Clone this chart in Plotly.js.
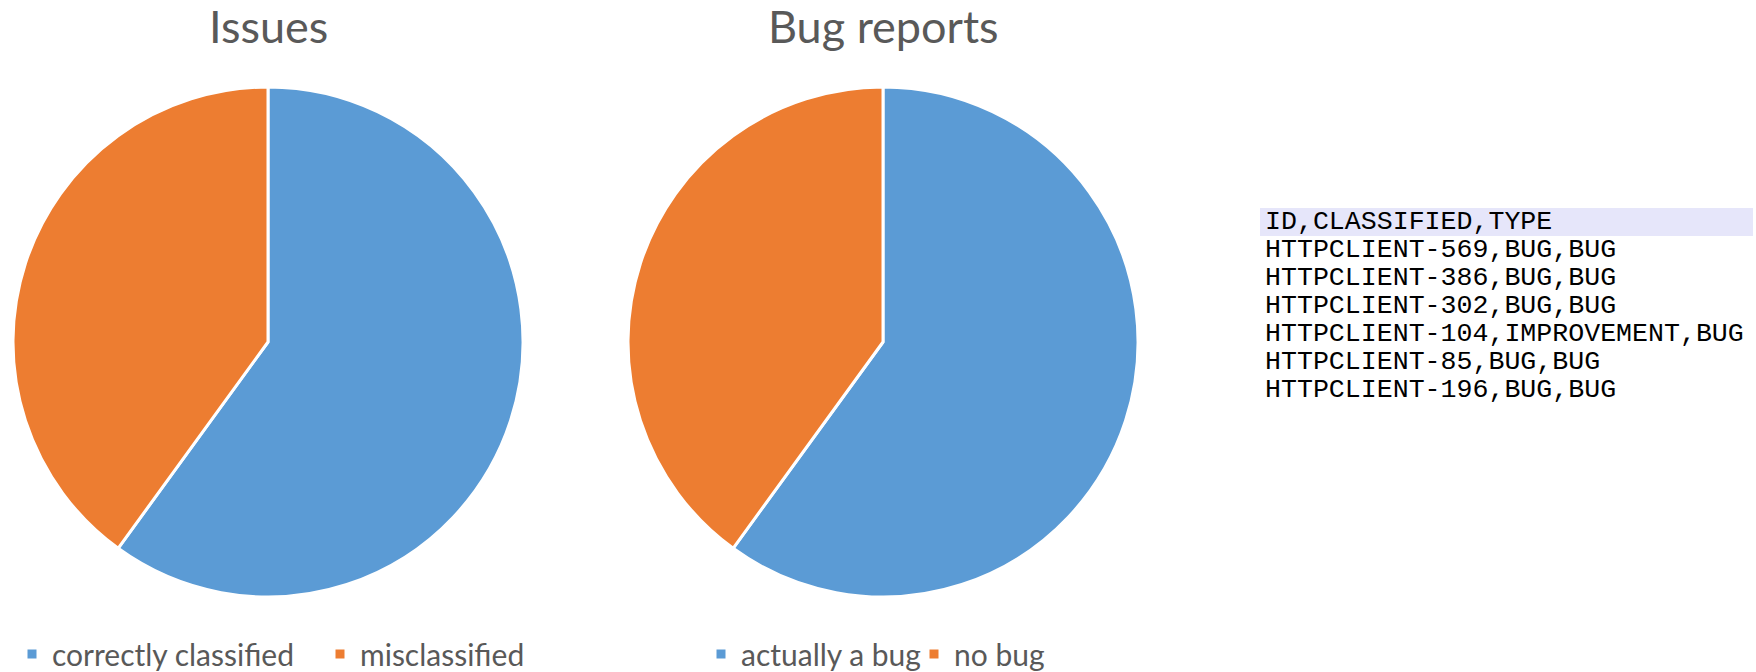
<!DOCTYPE html>
<html>
<head>
<meta charset="utf-8">
<script src="https://cdn.plot.ly/plotly-3.0.1.min.js"></script>
<style>html,body{margin:0;padding:0;background:#fff;}#chart{width:1756px;height:672px;}</style>
</head>
<body>
<div id="chart"></div>
<script>
// ---- data ----
const chartTitles = ['Issues', 'Bug reports'];
const issueLabels = ['correctly classified', 'misclassified'];
const issueValues = [60, 40];
const bugLabels = ['actually a bug', 'no bug'];
const bugValues = [60, 40];
const csvLines = [
  'ID,CLASSIFIED,TYPE',
  'HTTPCLIENT-569,BUG,BUG',
  'HTTPCLIENT-386,BUG,BUG',
  'HTTPCLIENT-302,BUG,BUG',
  'HTTPCLIENT-104,IMPROVEMENT,BUG',
  'HTTPCLIENT-85,BUG,BUG',
  'HTTPCLIENT-196,BUG,BUG'
];
const sliceColors = ['#5B9BD5', '#ED7D31'];

// ---- layout helpers ----
const W = 1756, H = 672;
const px = x => x / W;
const py = y => 1 - y / H;
const textColor = '#595959';
const uiFont = 'Lato, "Open Sans", sans-serif';

const pieCommon = {
  type: 'pie',
  sort: false,
  direction: 'clockwise',
  rotation: 0,
  textinfo: 'none',
  hoverinfo: 'label+value+percent',
  marker: {colors: sliceColors, line: {color: '#ffffff', width: 3}}
};

const data = [
  Object.assign({}, pieCommon, {
    labels: issueLabels, values: issueValues,
    domain: {x: [px(13), px(523)], y: [py(597), py(87)]},
    legend: 'legend'
  }),
  Object.assign({}, pieCommon, {
    labels: bugLabels, values: bugValues,
    domain: {x: [px(628), px(1138)], y: [py(597), py(87)]},
    legend: 'legend2'
  })
];

const annotations = [
  {text: chartTitles[0], x: px(268), y: py(26), xref: 'paper', yref: 'paper',
   xanchor: 'center', yanchor: 'middle', showarrow: false,
   font: {family: uiFont, size: 45, color: textColor}},
  {text: chartTitles[1], x: px(883), y: py(26), xref: 'paper', yref: 'paper',
   xanchor: 'center', yanchor: 'middle', showarrow: false,
   font: {family: uiFont, size: 45, color: textColor}}
];

csvLines.forEach((line, i) => {
  annotations.push({
    text: line, x: px(1264), y: py(222 + i * 28), xref: 'paper', yref: 'paper',
    xanchor: 'left', yanchor: 'middle', showarrow: false, align: 'left',
    font: {family: '"Liberation Mono", "DejaVu Sans Mono", monospace', size: 26.6, color: '#000000'},
    borderpad: 0
  });
});

// highlight band behind the header line of the CSV excerpt
const shapes = [{
  type: 'rect', xref: 'paper', yref: 'paper', layer: 'below',
  x0: px(1260), x1: px(1753), y0: py(236), y1: py(208),
  fillcolor: '#E6E6FA', line: {width: 0}
}];

const legendCommon = {
  orientation: 'h', xanchor: 'left', yanchor: 'middle',
  font: {family: uiFont, size: 30, color: textColor},
  bgcolor: 'rgba(0,0,0,0)', itemwidth: 30, traceorder: 'normal'
};

const layout = {
  width: W, height: H,
  margin: {l: 0, r: 0, t: 0, b: 0, autoexpand: false},
  paper_bgcolor: '#ffffff',
  showlegend: true,
  legend: Object.assign({}, legendCommon, {x: px(12), y: py(654), entrywidth: 263}),
  legend2: Object.assign({}, legendCommon, {x: px(701), y: py(654), entrywidth: 168}),
  annotations: annotations,
  shapes: shapes
};

Plotly.newPlot('chart', data, layout, {displayModeBar: false, staticPlot: true});
</script>
</body>
</html>
